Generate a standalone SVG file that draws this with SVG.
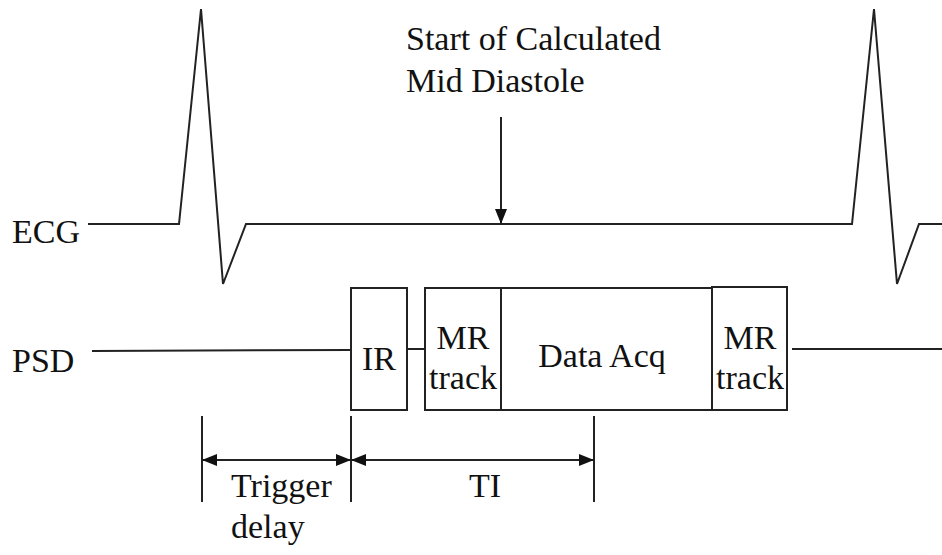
<svg xmlns="http://www.w3.org/2000/svg" width="942" height="555" viewBox="0 0 942 555">
<style>
.ln{fill:none;stroke:#222;stroke-width:2;stroke-linejoin:miter}
.bx{fill:#fff;stroke:#222;stroke-width:2}
.t{font-family:'Liberation Serif', serif;font-size:34px;fill:#111}
.c{text-anchor:middle}
</style>
<defs>
<marker id="ah" markerWidth="16" markerHeight="12" refX="15" refY="6" orient="auto-start-reverse" markerUnits="userSpaceOnUse">
<path d="M0,0 L15,6 L0,12 Z" fill="#111"/>
</marker>
</defs>
<rect width="942" height="555" fill="#fff"/>
<g id="labels" class="t">
<text x="12" y="243">ECG</text>
<text x="12" y="372">PSD</text>
<text x="406" y="50">Start of Calculated</text>
<text x="406" y="92">Mid Diastole</text>
</g>
<g id="connectors">
<polyline class="ln" points="88,224 179,224 201,9 223,284 246,224 852,224 874,9 897,284 919,224 942,224"/>
<line class="ln" x1="501" y1="117" x2="501" y2="224" marker-end="url(#ah)"/>
<line class="ln" x1="92" y1="351" x2="351" y2="350"/>
<line class="ln" x1="407" y1="349" x2="425" y2="349"/>
<line class="ln" x1="792" y1="349" x2="942" y2="349"/>
<line class="ln" x1="202" y1="416" x2="202" y2="502"/>
<line class="ln" x1="351" y1="416" x2="351" y2="502"/>
<line class="ln" x1="594" y1="416" x2="594" y2="502"/>
<line class="ln" x1="202" y1="460" x2="351" y2="460" marker-start="url(#ah)" marker-end="url(#ah)"/>
<line class="ln" x1="351" y1="460" x2="594" y2="460" marker-start="url(#ah)" marker-end="url(#ah)"/>
</g>
<g id="ir" class="t">
<rect class="bx" x="351" y="288" width="56" height="122"/>
<text class="c" x="379" y="370">IR</text>
</g>
<g id="mrtrack1" class="t">
<rect class="bx" x="425" y="288" width="76" height="122"/>
<text class="c" x="463" y="349">MR</text>
<text class="c" x="463" y="389">track</text>
</g>
<g id="dataacq" class="t">
<rect class="bx" x="501" y="288" width="211" height="122"/>
<text class="c" x="602" y="367">Data Acq</text>
</g>
<g id="mrtrack2" class="t">
<rect class="bx" x="712" y="287" width="75" height="123"/>
<text class="c" x="750" y="349">MR</text>
<text class="c" x="750" y="389">track</text>
</g>
<g id="dimlabels" class="t">
<text x="231" y="497">Trigger</text>
<text x="231" y="538">delay</text>
<text class="c" x="485" y="497">TI</text>
</g>
</svg>
